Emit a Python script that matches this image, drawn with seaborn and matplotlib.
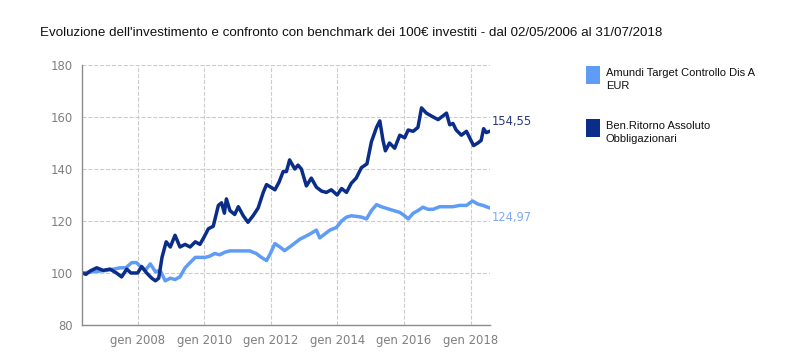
import pandas as pd
import seaborn as sns
import matplotlib.pyplot as plt
from matplotlib.patches import Rectangle

title = "Evoluzione dell'investimento e confronto con benchmark dei 100€ investiti - dal 02/05/2006 al 31/07/2018"
fund_name = "Amundi Target Controllo Dis A EUR"
bench_name = "Ben.Ritorno Assoluto Obbligazionari"

fund_dates = [
    "2006-05-02", "2006-09-01", "2007-01-30", "2007-06-25", "2007-08-25", "2007-10-30",
    "2007-12-20", "2008-02-01", "2008-03-25", "2008-05-20", "2008-07-15", "2008-09-05",
    "2008-10-30", "2008-12-25", "2009-02-15", "2009-04-10", "2009-06-05", "2009-07-30",
    "2009-09-25", "2009-11-15", "2010-01-10", "2010-03-05", "2010-04-25", "2010-06-20",
    "2010-08-15", "2010-10-10", "2011-01-25", "2011-05-15", "2011-07-25", "2011-09-20",
    "2011-11-15", "2011-12-20", "2012-02-15", "2012-04-10", "2012-05-30", "2012-07-25",
    "2012-09-20", "2012-11-15", "2013-01-10", "2013-03-05", "2013-05-15", "2013-06-20",
    "2013-08-15", "2013-10-10", "2013-12-20", "2014-02-15", "2014-04-10", "2014-06-01",
    "2014-07-25", "2014-09-20", "2014-11-15", "2015-01-08", "2015-03-05", "2015-04-25",
    "2015-07-25", "2015-11-15", "2016-01-08", "2016-02-15", "2016-04-10", "2016-06-01",
    "2016-07-25", "2016-09-20", "2016-11-15", "2017-01-25", "2017-04-10", "2017-06-20",
    "2017-09-01", "2017-11-15", "2018-01-20", "2018-03-20", "2018-05-15", "2018-07-31",
]
fund_values = [
    100, 100.5, 101, 102, 102, 104,
    104, 102.5, 101, 103.5, 100.5, 101,
    97, 98, 97.5, 98.5, 102, 104,
    106, 106, 106, 106.5, 107.5, 107,
    108, 108.5, 108.5, 108.5, 107.5, 106,
    104.8, 107, 111.3, 110, 108.6, 110,
    111.5, 113, 114, 115, 116.5, 113.5,
    115, 116.5, 117.5, 120, 121.5, 122,
    121.8, 121.5, 120.8, 124, 126.3, 125.5,
    124.5, 123.3, 122, 120.8, 123, 124,
    125.3, 124.5, 124.5, 125.5, 125.5, 125.5,
    126, 126, 127.7, 126.5, 126, 124.97,
]

bench_dates = [
    "2006-05-02", "2006-06-15", "2006-08-01", "2006-10-10", "2006-12-20", "2007-03-05",
    "2007-05-15", "2007-07-10", "2007-09-05", "2007-10-20", "2008-01-02", "2008-02-15",
    "2008-04-10", "2008-06-05", "2008-07-15", "2008-08-20", "2008-09-25", "2008-11-10",
    "2008-12-25", "2009-02-15", "2009-04-10", "2009-06-05", "2009-07-30", "2009-09-25",
    "2009-11-15", "2010-01-02", "2010-02-15", "2010-04-10", "2010-06-05", "2010-07-10",
    "2010-08-10", "2010-09-01", "2010-10-10", "2010-12-01", "2011-01-10", "2011-03-05",
    "2011-04-25", "2011-06-20", "2011-08-15", "2011-10-10", "2011-11-15", "2012-01-02",
    "2012-02-15", "2012-04-01", "2012-05-15", "2012-06-20", "2012-07-25", "2012-09-20",
    "2012-10-25", "2012-12-01", "2013-01-25", "2013-03-20", "2013-05-15", "2013-07-10",
    "2013-09-01", "2013-10-25", "2013-12-28", "2014-02-15", "2014-04-10", "2014-06-01",
    "2014-07-25", "2014-09-20", "2014-11-20", "2015-01-08", "2015-03-05", "2015-04-10",
    "2015-05-15", "2015-06-10", "2015-07-25", "2015-09-20", "2015-11-15", "2016-01-08",
    "2016-02-15", "2016-04-10", "2016-06-01", "2016-07-10", "2016-09-01", "2016-11-15",
    "2017-01-08", "2017-03-05", "2017-04-10", "2017-05-15", "2017-06-20", "2017-07-25",
    "2017-09-20", "2017-11-15", "2017-12-20", "2018-02-01", "2018-03-20", "2018-04-25",
    "2018-05-22", "2018-06-20", "2018-07-31",
]
bench_values = [
    100, 99.5, 100.8, 102, 101, 101.5,
    100, 98.5, 101.5, 100, 100, 102.5,
    100, 98, 97, 98, 106, 112,
    110, 114.5, 110, 111, 110, 112,
    111, 114, 117, 118, 126, 127,
    123, 128.5, 124, 122.5, 125.5, 122,
    119.5, 122, 125, 131, 134, 133,
    132, 135, 139, 139, 143.5, 140,
    141.5, 140, 133.5, 136.5, 133, 131.5,
    131, 132, 130, 132.5, 131, 134.5,
    136.5, 140.5, 142, 150.5, 156, 158.5,
    151, 147, 150, 148, 153, 152,
    155, 154.5, 156, 163.5, 161.5, 160,
    159, 160.5, 161.5, 157, 157.5, 155,
    153, 154.5, 152, 149, 150, 151,
    155.5, 154, 154.55,
]

fund_color = "#5f9cf5"
bench_color = "#0b2d8a"

df = pd.concat([
    pd.DataFrame({"data": pd.to_datetime(fund_dates), "valore": fund_values, "serie": fund_name}),
    pd.DataFrame({"data": pd.to_datetime(bench_dates), "valore": bench_values, "serie": bench_name}),
])

sns.set_style("white")
plt.rcParams["font.family"] = ["DejaVu Sans"]

fig = plt.figure(figsize=(7.92, 3.52), dpi=100)
ax = fig.add_axes([82 / 792, 27 / 352, 408 / 792, 260 / 352])

sns.lineplot(
    data=df, x="data", y="valore", hue="serie",
    palette={fund_name: fund_color, bench_name: bench_color},
    hue_order=[fund_name, bench_name],
    linewidth=2.5, legend=False, ax=ax,
)

ax.set_ylim(80, 180)
ax.set_yticks(range(80, 181, 20))
ax.set_xlim(pd.Timestamp(fund_dates[0]), pd.Timestamp(fund_dates[-1]))
ticks = [pd.Timestamp(f"{y}-01-01") for y in range(2008, 2019, 2)]
ax.set_xticks(ticks)
ax.set_xticklabels([f"gen {t.year}" for t in ticks])
ax.set_xlabel("")
ax.set_ylabel("")

ax.grid(True, color="#cccccc", linestyle="--", linewidth=0.8)
for s in ["top", "right"]:
    ax.spines[s].set_visible(False)
for s in ["left", "bottom"]:
    ax.spines[s].set_color("#8c8c8c")
    ax.spines[s].set_linewidth(1)
ax.tick_params(axis="both", colors="#8c8c8c", labelcolor="#7f7f7f", labelsize=8.4, length=3, width=1)

# etichette finali
ax.text(pd.Timestamp(bench_dates[-1]) + pd.Timedelta(days=20), bench_values[-1] + 3.8,
        f"{bench_values[-1]:.2f}".replace(".", ","), color="#2a3a7c", fontsize=8.3,
        va="center", ha="left", clip_on=False)
ax.text(pd.Timestamp(fund_dates[-1]) + pd.Timedelta(days=20), fund_values[-1] - 3.6,
        f"{fund_values[-1]:.2f}".replace(".", ","), color="#7ea9f2", fontsize=8.3,
        va="center", ha="left", clip_on=False)

fig.text(40 / 792, 1 - 33 / 352, title, fontsize=9.6, family=["Liberation Sans"],
         va="center", ha="left", color="#111111")

# legenda
legend_items = [
    (fund_color, "Amundi Target Controllo Dis A\nEUR", 66),
    (bench_color, "Ben.Ritorno Assoluto\nObbligazionari", 119),
]
for color, label, top in legend_items:
    fig.add_artist(Rectangle((586 / 792, 1 - (top + 18) / 352), 14 / 792, 18 / 352,
                             transform=fig.transFigure, facecolor=color, edgecolor="none"))
    fig.text(606 / 792, 1 - (top + 2) / 352, label, fontsize=8, family=["Liberation Sans"],
             va="top", ha="left", color="#111111", linespacing=1.35)

fig.savefig("out.png", dpi=100, facecolor="white")
